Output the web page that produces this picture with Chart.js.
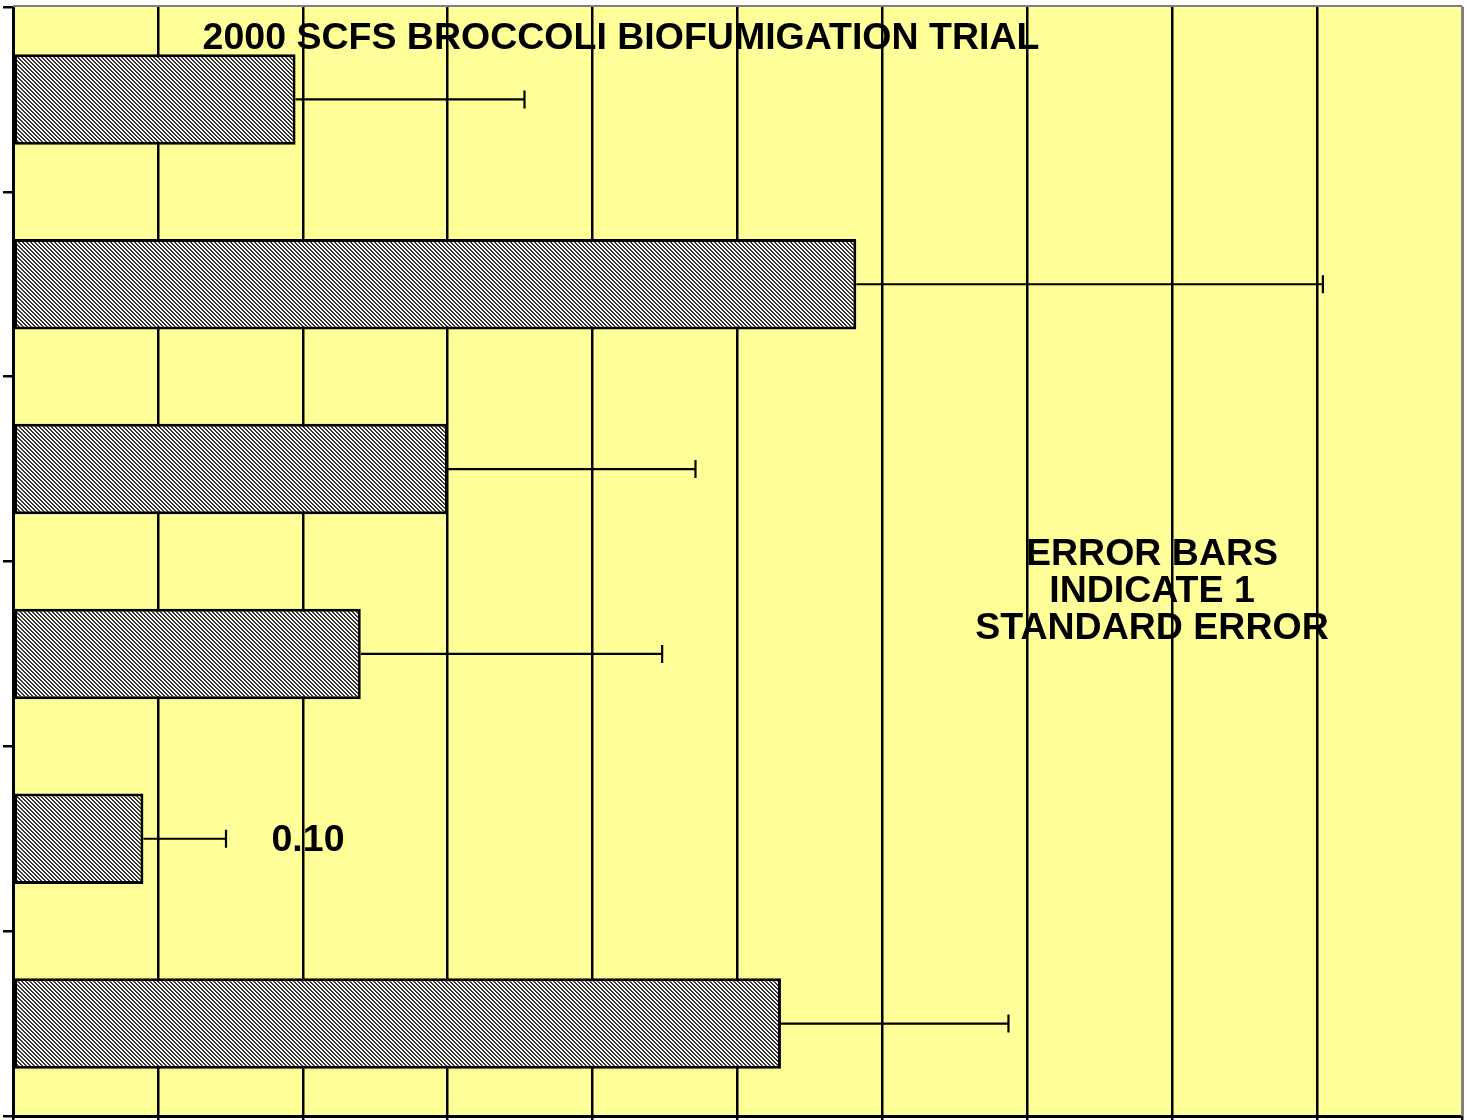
<!DOCTYPE html>
<html>
<head>
<meta charset="utf-8">
<script src="https://cdn.jsdelivr.net/npm/chart.js@4.4.1/dist/chart.umd.min.js"></script>
<style>
    html, body { margin: 0; padding: 0; background: #ffffff; }
    #wrap { width: 1467px; height: 1120px; position: relative; }
</style>
</head>
<body>
<div id="wrap"><canvas id="chart"></canvas></div>
<script>
// Datos (unidades del eje x: 0 a 1, rejilla cada 0.1)
const treatments = ['T1', 'T2', 'T3', 'T4', 'T5', 'T6'];
const means = [0.195, 0.582, 0.300, 0.240, 0.090, 0.530];
const stdErrors = [0.158, 0.322, 0.171, 0.208, 0.057, 0.157];

const titleText = '2000 SCFS BROCCOLI BIOFUMIGATION TRIAL';
const noteLines = ['ERROR BARS', 'INDICATE 1', 'STANDARD ERROR'];
const lsdText = '0.10';

const FONT = 'bold 37.5px "Liberation Sans", Arial, sans-serif';

// Trama diagonal gris fina tipo Excel
function makeHatch() {
    const c = document.createElement('canvas');
    c.width = 4; c.height = 4;
    const p = c.getContext('2d');
    p.fillStyle = '#ffffff';
    p.fillRect(0, 0, 4, 4);
    p.fillStyle = '#333333';
    for (let i = 0; i < 4; i++) {
        p.fillRect(i % 4, i, 1, 1);
        p.fillRect((i + 1) % 4, i, 1, 1);
    }
    return p.createPattern(c, 'repeat');
}

const plotBackground = {
    id: 'plotBackground',
    beforeDraw: (chart) => {
        const { ctx, chartArea: a } = chart;
        ctx.save();
        ctx.fillStyle = '#ffff99';
        ctx.fillRect(a.left, a.top, a.right - a.left, a.bottom - a.top);
        ctx.restore();
    },
    afterDraw: (chart) => {
        const { ctx, chartArea: a } = chart;
        ctx.save();
        ctx.strokeStyle = '#808080';
        ctx.lineWidth = 2;
        ctx.beginPath();
        ctx.moveTo(a.left, a.top - 1);
        ctx.lineTo(a.right, a.top - 1);
        ctx.moveTo(a.right, a.top - 1);
        ctx.lineTo(a.right, a.bottom);
        ctx.stroke();
        ctx.restore();
    }
};

const errorBars = {
    id: 'errorBars',
    afterDatasetsDraw: (chart) => {
        const { ctx, scales } = chart;
        const meta = chart.getDatasetMeta(0);
        ctx.save();
        ctx.strokeStyle = '#000000';
        ctx.lineWidth = 2.2;
        meta.data.forEach((bar, i) => {
            const x0 = scales.x.getPixelForValue(means[i]);
            const x1 = scales.x.getPixelForValue(means[i] + stdErrors[i]);
            const y = bar.y;
            ctx.beginPath();
            ctx.moveTo(x0, y);
            ctx.lineTo(x1, y);
            ctx.moveTo(x1, y - 9);
            ctx.lineTo(x1, y + 9);
            ctx.stroke();
        });
        ctx.restore();
    }
};

const annotations = {
    id: 'annotations',
    afterDraw: (chart) => {
        const { ctx, chartArea: a } = chart;
        ctx.save();
        ctx.fillStyle = '#000000';
        ctx.font = FONT;
        ctx.textAlign = 'center';
        ctx.textBaseline = 'alphabetic';
        ctx.fillText(titleText, a.left + 608, a.top + 42);
        noteLines.forEach((line, i) => {
            ctx.fillText(line, a.left + 1139, a.top + 558 + i * 37);
        });
        ctx.fillText(lsdText, a.left + 295, a.top + 844);
        ctx.restore();
    }
};

const ctx = document.getElementById('chart');

const config = {
    type: 'bar',
    data: {
        labels: treatments,
        datasets: [{
            data: means,
            backgroundColor: makeHatch(),
            borderColor: '#000000',
            borderWidth: 3,
            borderSkipped: false,
            categoryPercentage: 1,
            barPercentage: 0.49
        }]
    },
    options: {
        indexAxis: 'y',
        responsive: true,
        maintainAspectRatio: false,
        animation: false,
        layout: { padding: { left: 3, top: 7, right: 5, bottom: 0 } },
        plugins: {
            legend: { display: false },
            title: { display: false },
            tooltip: { enabled: false }
        },
        scales: {
            x: {
                min: 0,
                max: 1,
                ticks: { display: false, stepSize: 0.1 },
                grid: { color: '#000000', lineWidth: 2.5, tickLength: 4, drawTicks: true },
                border: { display: true, color: '#000000', width: 3 }
            },
            y: {
                offset: true,
                ticks: { display: false },
                grid: { offset: true, drawOnChartArea: false, drawTicks: true, tickLength: 10, color: '#000000', lineWidth: 2.5 },
                border: { display: true, color: '#000000', width: 3 }
            }
        }
    },
    plugins: [plotBackground, errorBars, annotations]
};

new Chart(ctx, config);
</script>
</body>
</html>
